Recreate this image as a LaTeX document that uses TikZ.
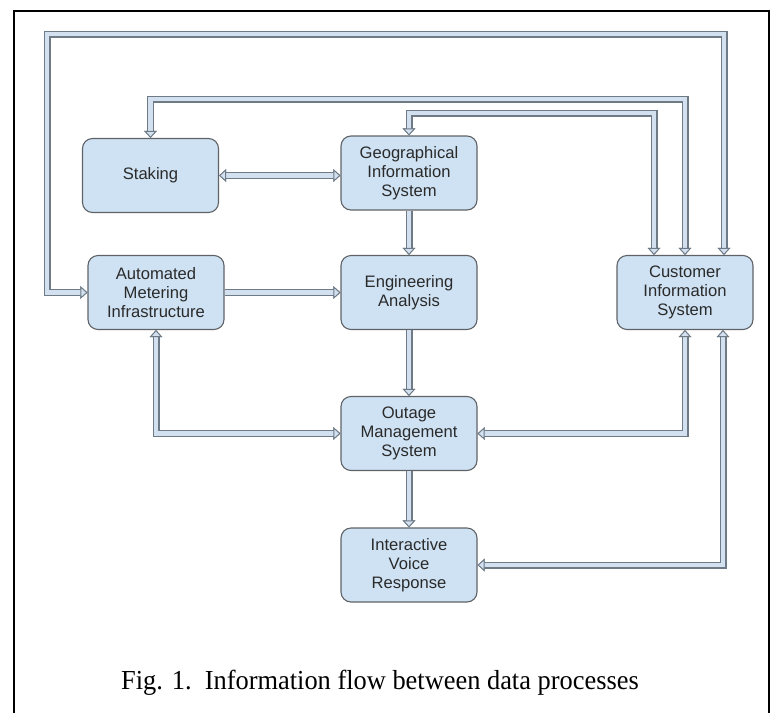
\documentclass[tikz,border=0pt]{standalone}
\usepackage{fontspec}
\setmainfont{Liberation Sans}
\newfontfamily\capfont{Liberation Serif}
\usetikzlibrary{arrows.meta}
\definecolor{boxfill}{HTML}{CFE2F3}
\definecolor{boxedge}{HTML}{5F6368}
\definecolor{pipefill}{HTML}{D3E0F0}
\definecolor{pipeedge}{HTML}{6E7A86}
\definecolor{txt}{HTML}{2A2A2A}
\newcommand\pipeline[2]{\draw[pipeout,#1] #2; \draw[pipein,#1] #2;}
\begin{document}
\begin{tikzpicture}[x=1pt,y=-1pt,
 proc/.style={draw=boxedge, line width=1.1pt, fill=boxfill, rounded corners=10pt,
   minimum width=136pt, minimum height=74pt, align=center,
   font=\fontsize{16.6}{19}\selectfont, text=txt, inner sep=0pt},
 pipetip/.tip={Triangle[length=7pt,width=12.5pt,line width=0.9pt,fill=pipefill,color=pipeedge]},
 pipeout/.style={draw=pipeedge, line width=7pt, line join=miter, >=pipetip},
 pipein/.style={draw=pipefill, line width=4.7pt, line join=miter, >=pipetip},
 frame/.style={draw=black, line width=1.6pt}
]
\useasboundingbox (0,0) rectangle (772,713);
\draw[frame] (14,720) -- (14,11) -- (769,11) -- (769,720);

\node[proc] (stak) at (150.5,175.5) {Staking};
\node[proc] (gis)  at (409,173) {Geographical\\Information\\System};
\node[proc] (ami)  at (156,292.5) {Automated\\Metering\\Infrastructure};
\node[proc] (ea)   at (409,292.5) {Engineering\\Analysis};
\node[proc] (cis)  at (685,292.5) {Customer\\Information\\System};
\node[proc] (oms)  at (409,433.5) {Outage\\Management\\System};
\node[proc] (ivr)  at (409,565) {Interactive\\Voice\\Response};

\coordinate (c1) at (47,34);
\coordinate (c2) at (0,99);
\coordinate (c3) at (0,113);
\coordinate (cisR) at ([xshift=39pt]cis.north);
\coordinate (cisL) at ([xshift=-31pt]cis.north);
\coordinate (cisB) at ([xshift=38pt]cis.south);

\pipeline{<->}{(ami.west) -| (c1) -| (cisR)}
\pipeline{<->}{(stak.north) |- (c2 -| cis.north) -- (cis.north)}
\pipeline{<->}{(gis.north) |- (c3 -| cisL) -- (cisL)}
\pipeline{<->}{(stak.east) -- (stak.east -| gis.west)}
\pipeline{->}{(gis.south) -- (ea.north)}
\pipeline{->}{(ami.east) -- (ea.west)}
\pipeline{->}{(ea.south) -- (oms.north)}
\pipeline{->}{(oms.south) -- (ivr.north)}
\pipeline{<->}{(ami.south) |- (oms.west)}
\pipeline{<->}{(cis.south) |- (oms.east)}
\pipeline{<->}{(cisB) |- (ivr.east)}

\node[xscale=0.96] (cap) at (380,683) {\capfont\fontsize{27.5}{32}\selectfont Fig. 1.\ \ Information flow between data processes};
\end{tikzpicture}
\end{document}
